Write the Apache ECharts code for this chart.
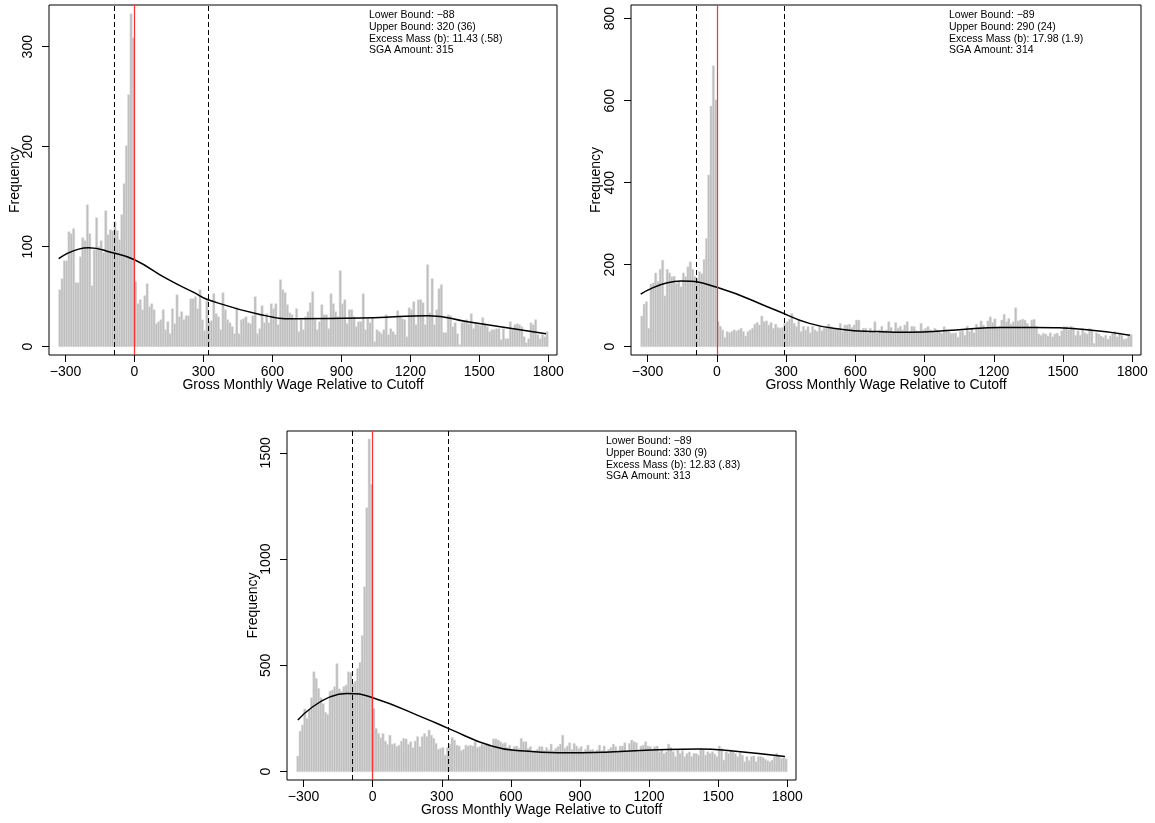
<!DOCTYPE html>
<html><head><meta charset="utf-8">
<script src="https://cdn.jsdelivr.net/npm/echarts@6/dist/echarts.min.js"></script>
<style>html,body{margin:0;padding:0;background:#fff}#c{width:1155px;height:823px}</style>
</head><body><div id="c"></div>
<script>
const BIN_START = -330, BIN_WIDTH = 10;
const xTicks = [-300, 0, 300, 600, 900, 1200, 1500, 1800];
const xTitle = 'Gross Monthly Wage Relative to Cutoff';
const yTitle = 'Frequency';

const p1Counts = [57,68,86,86,115,113,118,64,64,90,109,106,142,113,61,97,129,100,106,94,136,112,117,116,125,116,107,132,163,201,252,333,309,
65,43,47,37,51,63,40,43,37,23,25,27,37,17,25,13,38,23,52,30,35,27,31,31,48,48,
50,38,57,27,16,46,25,26,53,33,30,17,54,37,27,24,20,13,39,13,27,28,30,24,23,31,50,13,18,41,24,33,24,43,38,43,22,67,57,54,
42,34,32,27,38,15,27,17,30,35,44,55,27,17,25,42,32,32,18,53,43,35,30,76,43,47,23,37,37,30,20,25,25,53,17,28,
24,29,5,17,15,13,17,32,12,18,15,12,36,30,28,27,10,39,37,45,22,47,47,44,22,82,34,68,22,37,58,62,14,14,32,31,20,24,13,2,
24,25,27,23,33,18,23,22,21,29,23,20,15,17,17,18,18,7,18,8,8,25,17,22,23,22,20,10,4,8,24,22,27,12,8,12,10,15];
const p2Counts = [75,104,110,45,153,156,180,159,189,211,124,189,180,171,172,154,160,146,180,171,195,207,189,171,167,183,178,213,264,419,587,685,602,
61,50,41,23,37,34,37,41,38,41,45,37,26,37,41,45,55,59,53,75,61,63,53,59,45,55,
47,45,47,57,61,67,81,57,49,65,37,50,41,49,34,50,41,37,50,39,45,49,55,49,44,45,42,57,37,53,53,55,47,53,65,65,37,45,45,34,
45,37,61,33,41,50,39,41,61,47,37,59,45,50,41,53,61,37,50,49,39,37,57,41,45,49,41,37,45,41,37,33,49,41,37,33,
33,34,23,37,39,28,50,37,45,34,55,47,63,53,45,63,73,59,68,45,50,65,79,61,69,55,61,95,63,65,67,65,57,49,65,67,50,31,28,33,
31,26,34,24,31,33,26,39,49,49,41,50,47,28,39,28,45,34,31,45,42,8,34,31,26,23,28,18,26,33,37,24,34,28,18,20,26,30];
const p3Counts = [74,191,220,295,251,290,348,470,439,392,348,321,279,270,379,384,400,508,390,379,400,408,470,467,416,426,486,514,640,870,1242,1565,1352,
298,204,180,160,180,144,129,172,129,133,118,125,144,157,154,129,141,113,144,165,118,165,180,
165,196,172,157,133,105,110,114,78,114,130,161,149,125,121,99,105,125,121,125,121,141,114,118,130,125,133,130,114,155,
154,149,141,133,136,114,125,105,118,121,110,157,141,141,110,118,94,99,105,118,118,99,114,102,130,99,110,118,130,172,
110,121,136,105,133,121,108,118,94,105,125,102,105,94,102,125,99,
121,94,105,114,130,118,94,121,121,136,94,133,149,141,136,94,121,125,141,121,118,102,118,121,94,102,86,94,130,
114,94,71,102,86,99,71,86,93,71,86,86,78,110,105,78,94,86,94,83,71,121,110,55,94,86,102,94,86,71,
89,78,47,71,52,71,74,47,71,71,67,58,52,47,55,71,86,71,63,66,60];

const p1CurveX = [-330,-200,-95,0,140,260,320,550,700,1040,1280,1450,1790];
const p1CurveY = [88,99,94,87,68,54,47,32,28,29,31,25,13];
const p2CurveX = [-330,-156,0,256,401,545,690,834,1037,1232,1376,1593,1790];
const p2CurveY = [128,160,145,89,57,42,37,35,41,47,47,42,28];
const p3CurveX = [-325,-113,0,227,328,516,661,805,1008,1275,1420,1564,1790];
const p3CurveY = [243,368,348,251,204,121,97,89,92,105,107,97,71];

const p1YTicks = [0,100,200,300];
const p2YTicks = [0,200,400,600,800];
const p3YTicks = [0,500,1000,1500];

const p1Bounds = [-88, 320], p2Bounds = [-89, 290], p3Bounds = [-89, 330];
const cutoff = 0;
const p1Notes = ['Lower Bound: \u221288','Upper Bound: 320 (36)','Excess Mass (b): 11.43 (.58)','SGA Amount: 315'];
const p2Notes = ['Lower Bound: \u221289','Upper Bound: 290 (24)','Excess Mass (b): 17.98 (1.9)','SGA Amount: 314'];
const p3Notes = ['Lower Bound: \u221289','Upper Bound: 330 (9)','Excess Mass (b): 12.83 (.83)','SGA Amount: 313'];

const FONT = "'Liberation Sans', Arial, Helvetica, sans-serif";
const panels = [
  {grid:{left:49, top:5, width:508, height:350}, counts:p1Counts, cx:p1CurveX, cy:p1CurveY, yTicks:p1YTicks, yMin:-8.3, yMax:341.7, bounds:p1Bounds, notes:p1Notes, noteX:369, yTitleX:15},
  {grid:{left:631, top:5, width:510, height:350}, counts:p2Counts, cx:p2CurveX, cy:p2CurveY, yTicks:p2YTicks, yMin:-20.2, yMax:833.4, bounds:p2Bounds, notes:p2Notes, noteX:949, yTitleX:596},
  {grid:{left:287, top:431, width:509, height:349}, counts:p3Counts, cx:p3CurveX, cy:p3CurveY, yTicks:p3YTicks, yMin:-39, yMax:1602.6, bounds:p3Bounds, notes:p3Notes, noteX:606, yTitleX:253}
];

const fmt = v => v < 0 ? '\u2212' + (-v) : String(v);
const grids = [], xAxes = [], yAxes = [], series = [], graphics = [];
panels.forEach((p, i) => {
  grids.push(Object.assign({show:true, borderColor:'#000', borderWidth:1, backgroundColor:'transparent', outerBoundsMode:'none', containLabel:false}, p.grid));
  xAxes.push({type:'value', gridIndex:i, min:-372, max:1838, position:'bottom', splitLine:{show:false},
    axisLine:{show:false, onZero:false}, axisTick:{show:true, customValues:xTicks, length:7, lineStyle:{color:'#000'}},
    axisLabel:{customValues:xTicks, formatter:fmt, fontSize:14, margin:10, color:'#000', fontFamily:FONT}});
  yAxes.push({type:'value', gridIndex:i, min:p.yMin, max:p.yMax, position:'left', splitLine:{show:false},
    axisLine:{show:false, onZero:false}, axisTick:{show:true, customValues:p.yTicks, length:7, lineStyle:{color:'#000'}},
    axisLabel:{customValues:p.yTicks, formatter:v => String(v), rotate:90, fontSize:14, margin:14, color:'#000', fontFamily:FONT}});
  const data = p.counts.map((c, k) => [BIN_START + k*BIN_WIDTH, BIN_START + (k+1)*BIN_WIDTH, c]);
  series.push({type:'custom', xAxisIndex:i, yAxisIndex:i, z:2, silent:true, clip:true,
    encode:{x:[0,1], y:2}, data:data,
    renderItem:(params, api) => {
      const a = api.coord([api.value(0), 0]);
      const b = api.coord([api.value(1), api.value(2)]);
      return {type:'rect', shape:{x:a[0], y:b[1], width:b[0]-a[0], height:a[1]-b[1]},
        style:{fill:'#bebebe', stroke:'#dcdcdc', lineWidth:0.5}};
    }});
  series.push({type:'line', xAxisIndex:i, yAxisIndex:i, z:3, data:[], silent:true,
    markLine:{silent:true, symbol:['none','none'], label:{show:false}, animation:false,
      data:[
        {xAxis:p.bounds[0], lineStyle:{color:'#000', type:[5,3], width:1}},
        {xAxis:p.bounds[1], lineStyle:{color:'#000', type:[5,3], width:1}},
        {xAxis:cutoff, lineStyle:{color:'#ff3030', type:'solid', width:1.2}}
      ]}});
  series.push({type:'line', xAxisIndex:i, yAxisIndex:i, z:4, silent:true, showSymbol:false, smooth:0.5,
    data:p.cx.map((x, k) => [x, p.cy[k]]), lineStyle:{color:'#000', width:1.5}});
  p.notes.forEach((t, k) => graphics.push({type:'text', x:p.noteX, y:p.grid.top + 10.5 + k*11.7,
    style:{text:t, fontSize:10.5, fontFamily:FONT, fill:'#000', textVerticalAlign:'middle', textAlign:'left'}}));
  graphics.push({type:'text', x:p.grid.left + p.grid.width/2, y:p.grid.top + p.grid.height + 30,
    style:{text:xTitle, fontSize:14, fontFamily:FONT, fill:'#000', textAlign:'center', textVerticalAlign:'middle'}});
  graphics.push({type:'text', x:p.yTitleX, y:p.grid.top + p.grid.height/2, rotation:Math.PI/2,
    style:{text:yTitle, fontSize:14, fontFamily:FONT, fill:'#000', textAlign:'center', textVerticalAlign:'middle'}});
});

const chart = echarts.init(document.getElementById('c'));
chart.setOption({animation:false, backgroundColor:'#fff', grid:grids, xAxis:xAxes, yAxis:yAxes, series:series, graphic:graphics});
</script></body></html>
